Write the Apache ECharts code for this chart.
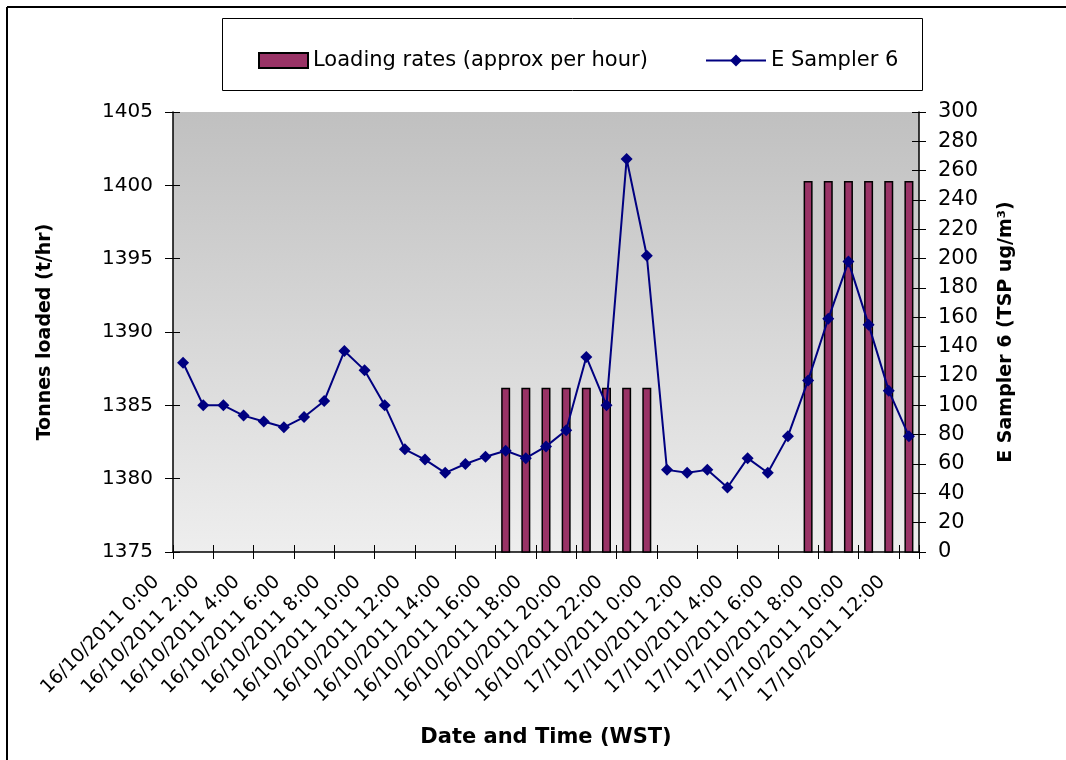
<!DOCTYPE html>
<html>
<head>
<meta charset="utf-8">
<script src="https://cdn.jsdelivr.net/npm/echarts@6/dist/echarts.min.js"></script>
<style>
html,body{margin:0;padding:0;background:#fff;}
#chart{width:1066px;height:760px;}
</style>
</head>
<body>
<div id="chart"></div>
<script>
const categories = [
  '16/10/2011 0:00','16/10/2011 1:00','16/10/2011 2:00','16/10/2011 3:00','16/10/2011 4:00','16/10/2011 5:00',
  '16/10/2011 6:00','16/10/2011 7:00','16/10/2011 8:00','16/10/2011 9:00','16/10/2011 10:00','16/10/2011 11:00',
  '16/10/2011 12:00','16/10/2011 13:00','16/10/2011 14:00','16/10/2011 15:00','16/10/2011 16:00','16/10/2011 17:00',
  '16/10/2011 18:00','16/10/2011 19:00','16/10/2011 20:00','16/10/2011 21:00','16/10/2011 22:00','16/10/2011 23:00',
  '17/10/2011 0:00','17/10/2011 1:00','17/10/2011 2:00','17/10/2011 3:00','17/10/2011 4:00','17/10/2011 5:00',
  '17/10/2011 6:00','17/10/2011 7:00','17/10/2011 8:00','17/10/2011 9:00','17/10/2011 10:00','17/10/2011 11:00',
  '17/10/2011 12:00'
];
const loadingRates = [
  '-','-','-','-','-','-','-','-','-','-','-','-','-','-','-','-',
  1386.2,1386.2,1386.2,1386.2,1386.2,1386.2,1386.2,1386.2,
  '-','-','-','-','-','-','-',
  1400.3,1400.3,1400.3,1400.3,1400.3,1400.3
];
const sampler6 = [
  129,100,100,93,89,85,92,103,137,124,100,70,63,54,60,65,69,64,72,83,
  133,100,268,202,56,54,56,44,64,54,79,117,159,198,155,110,79
];
const leftTicks = {min:1375, max:1405, interval:5};
const rightTicks = {min:0, max:300, interval:20};
const seriesNames = ['Loading rates (approx per hour)','E Sampler 6'];

const FONT = 'DejaVu Sans';
const chart = echarts.init(document.getElementById('chart'));
const grid = {left:173, right:147, top:112, bottom:208};

chart.setOption({
  animation:false,
  backgroundColor:'#ffffff',
  textStyle:{fontFamily:FONT},
  graphic:[
    {type:'line', shape:{x1:7,y1:7,x2:1066,y2:7}, style:{stroke:'#000',lineWidth:2}},
    {type:'line', shape:{x1:7,y1:7,x2:7,y2:760}, style:{stroke:'#000',lineWidth:2}},
    {type:'rect', shape:{x:222.5,y:18.5,width:700,height:72}, style:{fill:'#fff',stroke:'#000',lineWidth:1}, z:-1}
  ],
  legend:[
    {data:[{name:seriesNames[0], icon:'rect'}], left:253, top:45, itemWidth:49, itemHeight:15, itemGap:0,
     textStyle:{fontFamily:FONT,fontSize:21,color:'#000'}},
    {data:[seriesNames[1]], left:700, top:45, itemWidth:60, itemHeight:15,
     textStyle:{fontFamily:FONT,fontSize:21,color:'#000'}}
  ],
  grid:[Object.assign({show:true, borderWidth:0,
    backgroundColor:new echarts.graphic.LinearGradient(0,0,0,1,[{offset:0,color:'#c0c0c0'},{offset:1,color:'#eeeeee'}])}, grid)],
  xAxis:[
    {type:'category', data:categories, boundaryGap:true,
     axisLine:{lineStyle:{color:'#000',width:1.5}},
     axisTick:{show:true, interval:1, length:7, lineStyle:{color:'#000'}},
     axisLabel:{interval:1, rotate:45, margin:0, padding:[0,38,0,0], color:'#000', fontSize:19, fontFamily:FONT},
     name:'Date and Time (WST)', nameLocation:'middle', nameGap:175,
     nameTextStyle:{fontFamily:FONT, fontWeight:'bold', fontSize:21, color:'#000'}},
    {type:'category', data:categories, boundaryGap:true, position:'bottom',
     axisLine:{show:false}, axisLabel:{show:false},
     axisTick:{show:true, inside:true, interval:1, length:7, lineStyle:{color:'#000'}}}
  ],
  yAxis:[
    {type:'value', position:'left', min:leftTicks.min, max:leftTicks.max, interval:leftTicks.interval,
     splitLine:{show:false},
     axisLine:{show:true, lineStyle:{color:'#000',width:1.5}},
     axisTick:{show:true, length:8, lineStyle:{color:'#000'}},
     axisLabel:{margin:20, color:'#000', fontSize:20, fontFamily:FONT, formatter:v => String(v)},
     name:'Tonnes loaded (t/hr)', nameLocation:'middle', nameRotate:90, nameGap:118,
     nameTextStyle:{fontFamily:FONT, fontWeight:'bold', fontSize:19, color:'#000'}},
    {type:'value', position:'right', min:rightTicks.min, max:rightTicks.max, interval:rightTicks.interval,
     splitLine:{show:false},
     axisLine:{show:true, lineStyle:{color:'#000',width:1.5}},
     axisTick:{show:true, length:7, lineStyle:{color:'#000'}},
     axisLabel:{margin:19, color:'#000', fontSize:21, fontFamily:FONT, formatter:v => String(v)},
     name:'E Sampler 6 (TSP ug/m³)', nameLocation:'middle', nameRotate:90, nameGap:78,
     nameTextStyle:{fontFamily:FONT, fontWeight:'bold', fontSize:19, color:'#000'}},
    {type:'value', position:'left', min:leftTicks.min, max:leftTicks.max, interval:leftTicks.interval,
     splitLine:{show:false}, axisLine:{show:false}, axisLabel:{show:false},
     axisTick:{show:true, inside:true, length:7, lineStyle:{color:'#000'}}},
    {type:'value', position:'right', min:rightTicks.min, max:rightTicks.max, interval:rightTicks.interval,
     splitLine:{show:false}, axisLine:{show:false}, axisLabel:{show:false},
     axisTick:{show:true, inside:true, length:7, lineStyle:{color:'#000'}}}
  ],
  series:[
    {name:seriesNames[0], type:'bar', xAxisIndex:0, yAxisIndex:0, data:loadingRates, barWidth:9,
     itemStyle:{color:'#993366', borderColor:'#000', borderWidth:1.5}, z:2},
    {name:seriesNames[1], type:'line', xAxisIndex:0, yAxisIndex:1, data:sampler6,
     symbol:'diamond', symbolSize:12,
     lineStyle:{color:'#000080', width:2}, itemStyle:{color:'#000080'}, z:5}
  ]
});
</script>
</body>
</html>
